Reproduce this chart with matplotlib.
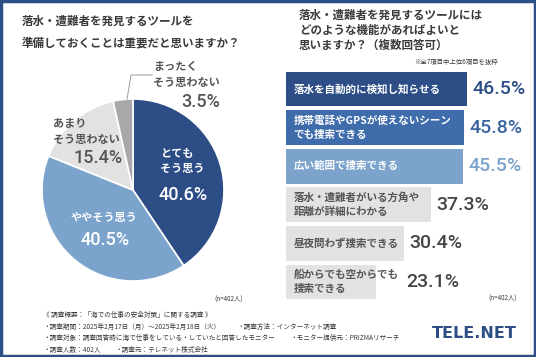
"""
Survey chart: pie of importance ratings + bar chart of desired functions.
"""

import matplotlib
matplotlib.use("Agg")
import matplotlib.pyplot as plt
from matplotlib.patches import Rectangle
import numpy as np

plt.rcParams['font.family'] = ['Noto Sans CJK JP', 'DejaVu Sans']

# ---- data ----
pie_labels = ["とても\nそう思う", "ややそう思う", "あまり\nそう思わない", "まったく\nそう思わない"]
pie_values = [40.6, 40.5, 15.4, 3.5]

bar_labels = ["落水を自動的に検知し知らせる",
	"携帯電話やGPSが使えないシーン\nでも捜索できる",
	"広い範囲で捜索できる",
	"落水・遭難者がいる方角や\n距離が詳細にわかる",
	"昼夜問わず捜索できる",
	"船からでも空からでも\n捜索できる"]
bar_values = [46.5, 45.8, 45.5, 37.3, 30.4, 23.1]

footer_left = ["《 調査概要：「海での仕事の安全対策」に関する調査 》",
	"・調査期間：2025年2月17日（月）～2025年2月18日（火）",
	"・調査対象：調査回答時に海で仕事をしている・していたと回答したモニター",
	"・調査人数：402人"]
footer_right = ["", "・調査方法：インターネット調査", "・モニター提供元：PRIZMAリサーチ",
	"・調査元：テレネット株式会社"]

# ---- styles ----
navy = "#2c4d86"
midblue = "#3f6cab"
lightblue = "#7ba3cc"
lightgray = "#e2e2e2"
gray = "#a8a8a8"
textgray = "#3a3a3a"
numfont = ["Roboto", "DejaVu Sans"]

W, H = 536, 357
fig = plt.figure(figsize=(W / 100, H / 100), dpi=100)
fig.patch.set_facecolor("white")

def fx(px):
	return px / W

def fy(py):
	return 1 - py / H

# frame
fig.patches.append(Rectangle((0.002, 0.003), 0.996, 0.994, transform=fig.transFigure,
	fill=False, edgecolor=navy, linewidth=2.5))

# titles
fig.text(fx(22), fy(21), "落水・遭難者を発見するツールを", fontsize=8.3, weight="bold",
	color=textgray, va="center")
fig.text(fx(22), fy(43), "準備しておくことは重要だと思いますか？", fontsize=8.3, weight="bold",
	color=textgray, va="center")
for i, line in enumerate(["落水・遭難者を発見するツールには", "どのような機能があればよいと",
		"思いますか？（複数回答可）"]):
	fig.text(fx(299), fy(15 + 15.3 * i), line, fontsize=8.3, weight="bold",
		color=textgray, va="center")
fig.text(fx(498), fy(62), "※全7項目中上位6項目を抜粋", fontsize=4.6, color=textgray,
	ha="right", va="center")

# ---- pie ----
cx, cy, r = 133, 190, 91
ax = fig.add_axes([fx(cx - r), fy(cy + r), 2 * r / W, 2 * r / H])
ax.pie(pie_values, colors=[navy, lightblue, lightgray, gray], startangle=90,
	counterclock=False, radius=1, wedgeprops=dict(edgecolor="white", linewidth=1.2))
ax.set_xlim(-1, 1)
ax.set_ylim(-1, 1)
ax.set_aspect("auto")
ax.axis("off")

def pd(px, py):
	return (px - cx) / r, (cy - py) / r

lbl_style = [dict(color="white", pos=(160, 161), ha="left", pct=(183, 195)),
	dict(color="white", pos=(104, 217), ha="center", pct=(105, 240)),
	dict(color="#555555", pos=(53, 131.5), ha="left", pct=(98, 158)),
	dict(color="#555555", pos=(153, 74.5), ha="left", pct=(201, 102))]
for lab, val, st in zip(pie_labels, pie_values, lbl_style):
	x, y = pd(*st["pos"])
	ax.text(x, y, lab, color=st["color"], fontsize=8, weight="bold", ha=st["ha"],
		va="center", multialignment="left", linespacing=1.25)
	x, y = pd(*st["pct"])
	ax.text(x, y, "%.1f%%" % val, color=st["color"], fontsize=13, weight="medium",
		family=numfont, ha="center", va="center")

# leader line for smallest slice
ang = np.deg2rad(90 + 360 * pie_values[-1] / sum(pie_values) / 2 * 0.6)
x0, y0 = np.cos(ang), np.sin(ang)
ex, ey = pd(131, 75)
lx, _ = pd(152, 75)
ax.plot([x0, ex, lx], [y0, ey, ey], color="#9a9a9a", linewidth=0.7, clip_on=False)

fig.text(fx(243), fy(300), "(n=402人)", fontsize=4.5, color=textgray, ha="right", va="center")

# ---- bars ----
scale = 3.89  # px per percent
bx = fig.add_axes([fx(286), fy(301.3), 60 * scale / W, 231.6 / H])
bar_colors = [navy, midblue, lightblue, lightgray, lightgray, lightgray]
val_colors = [navy, "#3a64a0", lightblue, "#444444", "#444444", "#444444"]
txt_colors = ["white", "white", "white", "#555555", "#555555", "#555555"]
ypos = np.arange(len(bar_values))
bx.barh(ypos, bar_values, height=0.9, color=bar_colors)
bx.set_xlim(0, 60)
bx.set_ylim(len(bar_values) - 0.5, -0.5)
bx.axis("off")
renderer = fig.canvas.get_renderer()
for i in range(len(bar_values)):
	t = bx.text(2.0, ypos[i], bar_labels[i], color=txt_colors[i], fontsize=7.6,
		weight="bold", va="center", ha="left", linespacing=1.45)
	bb = t.get_window_extent(renderer).transformed(bx.transData.inverted())
	vx = max(bar_values[i] + 1.4, bb.x1 + 1.8)
	bx.text(vx, ypos[i], "%.1f%%" % bar_values[i], color=val_colors[i],
		fontsize=14, weight="medium", family=numfont, va="center", ha="left")

fig.text(fx(517), fy(299), "(n=402人)", fontsize=4.5, color=textgray, ha="right", va="center")

# ---- footer ----
rows = [315, 326.5, 338, 349.5]
rx = [None, 237, 290, 115]
for i in range(len(footer_left)):
	fig.text(fx(43), fy(rows[i]), footer_left[i], fontsize=4.75, color=textgray, va="center")
	if footer_right[i]:
		fig.text(fx(rx[i]), fy(rows[i]), footer_right[i], fontsize=4.75, color=textgray,
			va="center")

fig.text(fx(474), fy(333), "TELE.NET", fontsize=11.5, weight="heavy", color=navy,
	family=["DejaVu Sans"], ha="center", va="center")

plt.savefig("out.png", dpi=100)
